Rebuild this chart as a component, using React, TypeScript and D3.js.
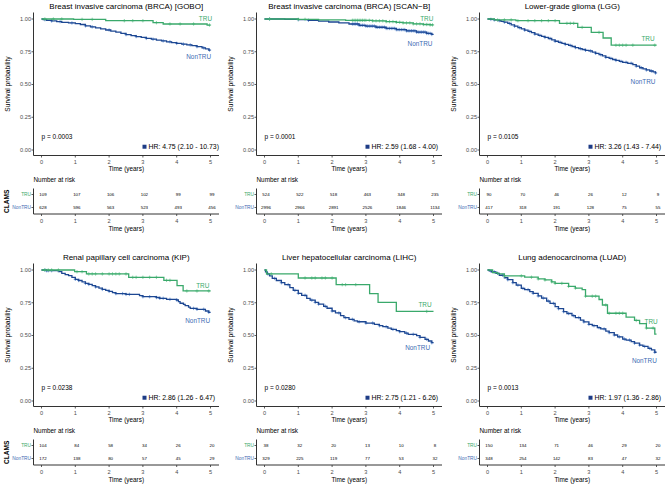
import React from "react";
import * as d3 from "d3";

type Pt = [number, number];

const titles = [
  "Breast invasive carcinoma (BRCA) [GOBO]",
  "Breast invasive carcinoma (BRCA) [SCAN\u2212B]",
  "Lower-grade glioma (LGG)",
  "Renal papillary cell carcinoma (KIP)",
  "Liver hepatocellular carcinoma (LIHC)",
  "Lung adenocarcinoma (LUAD)",
];
const pValues = ["p = 0.0003", "p = 0.0001", "p = 0.0105", "p = 0.0238", "p = 0.0280", "p = 0.0013"];
const hrLabels = [
  "HR: 4.75 (2.10 - 10.73)",
  "HR: 2.59 (1.68 - 4.00)",
  "HR: 3.26 (1.43 - 7.44)",
  "HR: 2.86 (1.26 - 6.47)",
  "HR: 2.75 (1.21 - 6.26)",
  "HR: 1.97 (1.36 - 2.86)",
];
const riskTRU = [
  [109, 107, 106, 102, 99, 99],
  [524, 522, 518, 463, 348, 235],
  [90, 70, 46, 26, 12, 9],
  [104, 84, 58, 34, 26, 20],
  [38, 32, 20, 13, 10, 8],
  [150, 134, 71, 46, 29, 20],
];
const riskNonTRU = [
  [628, 596, 563, 523, 493, 456],
  [2996, 2966, 2891, 2526, 1846, 1134],
  [417, 318, 191, 128, 75, 55],
  [172, 138, 80, 57, 45, 29],
  [329, 225, 119, 77, 53, 32],
  [348, 254, 142, 83, 47, 32],
];
const timeTicks = [0, 1, 2, 3, 4, 5];
const survTicks = [0, 0.25, 0.5, 0.75, 1];

// Kaplan-Meier step points [time, survival]
const goboTRU: Pt[] = [[0, 1], [0.95, 0.997], [1.9, 0.987], [3.3, 0.972], [3.6, 0.962], [4.9, 0.954]];
const goboNon: Pt[] = [[0, 1], [0.05, 0.995], [0.15, 0.99], [0.3, 0.985], [0.45, 0.98], [0.6, 0.975], [0.8, 0.97], [1.0, 0.965], [1.15, 0.958], [1.3, 0.948], [1.45, 0.94], [1.6, 0.932], [1.75, 0.924], [1.9, 0.916], [2.05, 0.908], [2.2, 0.9], [2.35, 0.89], [2.5, 0.881], [2.65, 0.873], [2.8, 0.866], [2.95, 0.859], [3.1, 0.852], [3.25, 0.846], [3.4, 0.839], [3.55, 0.833], [3.7, 0.826], [3.85, 0.82], [4.0, 0.814], [4.15, 0.808], [4.3, 0.802], [4.45, 0.796], [4.6, 0.789], [4.75, 0.78], [4.85, 0.772], [4.95, 0.763]];
const scanTRU: Pt[] = [[0, 1], [1.0, 0.997], [1.6, 0.993], [2.4, 0.99], [3.2, 0.986], [3.6, 0.98], [3.9, 0.975], [4.1, 0.97], [4.4, 0.963], [4.7, 0.958], [4.9, 0.955]];
const scanNon: Pt[] = [[0, 1], [0.6, 0.998], [1.0, 0.995], [1.3, 0.99], [1.6, 0.984], [1.9, 0.977], [2.2, 0.97], [2.5, 0.962], [2.8, 0.952], [3.0, 0.946], [3.3, 0.937], [3.6, 0.928], [3.9, 0.919], [4.2, 0.91], [4.5, 0.9], [4.8, 0.89], [4.95, 0.882]];
const lggTRU: Pt[] = [[0, 1], [0.2, 0.993], [0.84, 0.987], [2.13, 0.967], [2.67, 0.936], [3.07, 0.898], [3.42, 0.855], [3.66, 0.8]];
const lggNon: Pt[] = [[0, 1], [0.1, 0.997], [0.2, 0.993], [0.3, 0.988], [0.4, 0.982], [0.5, 0.976], [0.6, 0.966], [0.7, 0.955], [0.8, 0.945], [0.9, 0.934], [1.0, 0.924], [1.1, 0.915], [1.2, 0.905], [1.3, 0.896], [1.4, 0.885], [1.5, 0.875], [1.6, 0.867], [1.7, 0.859], [1.8, 0.851], [1.9, 0.841], [2.0, 0.83], [2.1, 0.822], [2.2, 0.814], [2.3, 0.806], [2.4, 0.798], [2.5, 0.79], [2.6, 0.782], [2.7, 0.774], [2.8, 0.767], [2.9, 0.761], [3.0, 0.756], [3.1, 0.747], [3.2, 0.738], [3.3, 0.728], [3.4, 0.718], [3.5, 0.707], [3.6, 0.699], [3.7, 0.691], [3.8, 0.684], [3.9, 0.676], [4.0, 0.669], [4.15, 0.662], [4.3, 0.651], [4.4, 0.64], [4.5, 0.628], [4.6, 0.62], [4.7, 0.611], [4.8, 0.603], [4.9, 0.596], [4.97, 0.588]];
const kipTRU: Pt[] = [[0, 1], [0.98, 0.987], [1.33, 0.97], [2.58, 0.944], [3.62, 0.921], [4.01, 0.88], [4.19, 0.84]];
const kipNon: Pt[] = [[0, 1], [0.15, 0.995], [0.5, 0.987], [0.6, 0.975], [0.7, 0.965], [0.8, 0.957], [0.9, 0.943], [1.0, 0.929], [1.1, 0.92], [1.2, 0.91], [1.3, 0.898], [1.4, 0.89], [1.5, 0.88], [1.6, 0.871], [1.7, 0.862], [1.8, 0.852], [1.9, 0.845], [2.0, 0.837], [2.1, 0.828], [2.2, 0.82], [2.5, 0.814], [2.9, 0.804], [3.0, 0.796], [3.4, 0.79], [3.5, 0.784], [3.7, 0.776], [4.0, 0.771], [4.05, 0.758], [4.1, 0.746], [4.2, 0.737], [4.25, 0.728], [4.35, 0.717], [4.4, 0.707], [4.6, 0.7], [4.85, 0.687], [4.95, 0.677]];
const lihcTRU: Pt[] = [[0, 1], [0.06, 0.97], [1.0, 0.939], [2.12, 0.888], [3.11, 0.819], [3.36, 0.753], [3.9, 0.684]];
const lihcNon: Pt[] = [[0, 1], [0.03, 0.985], [0.08, 0.97], [0.15, 0.955], [0.23, 0.936], [0.35, 0.92], [0.5, 0.903], [0.6, 0.888], [0.75, 0.865], [0.85, 0.845], [1.0, 0.822], [1.1, 0.807], [1.25, 0.784], [1.35, 0.77], [1.5, 0.753], [1.6, 0.74], [1.75, 0.723], [1.85, 0.708], [2.0, 0.687], [2.1, 0.672], [2.25, 0.651], [2.35, 0.636], [2.5, 0.623], [2.65, 0.612], [2.75, 0.605], [3.0, 0.595], [3.25, 0.585], [3.4, 0.575], [3.5, 0.567], [3.65, 0.556], [3.75, 0.547], [3.9, 0.537], [4.0, 0.529], [4.15, 0.518], [4.25, 0.509], [4.5, 0.499], [4.6, 0.485], [4.75, 0.471], [4.85, 0.458], [4.95, 0.445]];
const luadTRU: Pt[] = [[0, 1], [0.15, 0.98], [0.3, 0.97], [0.5, 0.955], [1.1, 0.945], [1.5, 0.932], [1.7, 0.924], [1.9, 0.91], [2.0, 0.898], [2.4, 0.875], [2.6, 0.862], [2.8, 0.85], [2.9, 0.8], [3.3, 0.775], [3.4, 0.733], [3.55, 0.67], [4.1, 0.64], [4.35, 0.615], [4.5, 0.59], [4.7, 0.557], [4.95, 0.511]];
const luadNon: Pt[] = [[0, 1], [0.05, 0.993], [0.12, 0.985], [0.25, 0.975], [0.35, 0.96], [0.5, 0.941], [0.6, 0.926], [0.75, 0.903], [0.85, 0.885], [1.0, 0.86], [1.1, 0.85], [1.25, 0.835], [1.35, 0.822], [1.5, 0.802], [1.6, 0.786], [1.75, 0.763], [1.85, 0.745], [2.0, 0.72], [2.1, 0.705], [2.25, 0.682], [2.35, 0.668], [2.5, 0.651], [2.6, 0.637], [2.75, 0.618], [2.85, 0.604], [3.0, 0.585], [3.1, 0.575], [3.25, 0.56], [3.35, 0.55], [3.5, 0.534], [3.6, 0.522], [3.75, 0.504], [3.85, 0.49], [4.0, 0.473], [4.1, 0.465], [4.25, 0.453], [4.35, 0.442], [4.5, 0.427], [4.6, 0.417], [4.75, 0.402], [4.85, 0.39], [4.95, 0.372]];

// censoring times
const goboTRUc = [0.1, 0.35, 0.6, 1.2, 1.5, 2.45, 2.7, 3.0, 3.4, 3.8, 4.1, 4.5, 4.97];
const goboNonc = [0.1, 0.3, 0.55, 0.9, 1.3, 1.5, 2.0, 2.5, 2.8, 3.1, 3.3, 3.6, 3.8, 4.0, 4.2, 4.4, 4.6, 4.8, 4.97];
const scanTRUc = [0.15, 1.0, 1.2, 2.6, 2.65, 2.7, 2.75, 2.8, 2.85, 2.9, 2.95, 3.0, 3.1, 3.2, 3.3, 3.4, 3.5, 3.6, 3.7, 3.8, 3.9, 4.0, 4.1, 4.2, 4.3, 4.4, 4.5, 4.6, 4.7, 4.8, 4.9, 4.97];
const scanNonc = [0.15, 1.0, 1.3, 2.6, 2.65, 2.7, 2.75, 2.8, 2.85, 2.9, 2.95, 3.0, 3.05, 3.1, 3.15, 3.2, 3.25, 3.3, 3.35, 3.4, 3.45, 3.5, 3.55, 3.6, 3.65, 3.7, 3.75, 3.8, 3.85, 3.9, 3.95, 4.0, 4.05, 4.1, 4.15, 4.2, 4.25, 4.3, 4.35, 4.4, 4.45, 4.5, 4.55, 4.6, 4.65, 4.7, 4.75, 4.8, 4.85, 4.9, 4.95];
const lggTRUc = [0.3, 0.5, 0.7, 0.9, 1.2, 1.4, 1.6, 1.8, 2.0, 2.35, 2.45, 2.55, 2.8, 3.3, 3.8, 3.9, 4.0, 4.1, 4.3, 4.95];
const lggNonc = [0.1, 0.2, 0.35, 0.5, 0.65, 0.8, 0.95, 1.1, 1.25, 1.4, 1.55, 1.7, 1.85, 2.0, 2.15, 2.3, 2.45, 2.6, 2.75, 2.9, 3.05, 3.2, 3.35, 3.5, 3.65, 3.8, 3.95, 4.1, 4.25, 4.4, 4.55, 4.7, 4.85, 4.97];
const kipTRUc = [0.1, 0.2, 0.3, 0.5, 1.05, 1.2, 1.4, 1.5, 1.6, 1.8, 2.0, 2.1, 2.2, 2.3, 2.5, 2.7, 2.8, 3.0, 3.2, 3.4, 3.7, 3.8, 4.3, 4.6, 4.95];
const kipNonc = [0.1, 0.15, 0.2, 0.3, 1.0, 1.1, 1.3, 1.4, 1.6, 1.8, 2.0, 2.2, 2.4, 2.5, 2.6, 3.0, 3.2, 3.4, 3.5, 3.6, 3.8, 4.0, 4.5, 4.6, 4.8, 4.95];
const lihcTRUc = [0.2, 1.2, 1.4, 1.5, 1.7, 1.8, 2.0, 2.3, 2.4, 2.7, 4.8];
const lihcNonc = [0.1, 0.3, 0.5, 0.7, 0.9, 1.0, 1.2, 1.4, 1.5, 1.6, 1.8, 2.0, 2.2, 2.4, 2.6, 2.8, 3.0, 3.2, 3.4, 3.6, 3.8, 4.0, 4.2, 4.4, 4.6, 4.8, 4.95];
const luadTRUc = [0.5, 1.0, 1.3, 1.5, 1.7, 1.9, 2.0, 2.2, 2.4, 2.6, 2.9, 3.1, 3.2, 3.5, 3.6, 3.8, 3.9, 4.0, 4.4, 4.7, 4.9];
const luadNonc = [0.1, 0.2, 0.3, 0.45, 0.6, 0.75, 0.9, 1.05, 1.2, 1.35, 1.5, 1.65, 1.8, 1.95, 2.1, 2.25, 2.4, 2.55, 2.7, 2.85, 3.0, 3.15, 3.3, 3.45, 3.6, 3.75, 3.9, 4.05, 4.2, 4.35, 4.5, 4.65, 4.8, 4.95];

const truCurves = [goboTRU, scanTRU, lggTRU, kipTRU, lihcTRU, luadTRU];
const nonCurves = [goboNon, scanNon, lggNon, kipNon, lihcNon, luadNon];
const truCensors = [goboTRUc, scanTRUc, lggTRUc, kipTRUc, lihcTRUc, luadTRUc];
const nonCensors = [goboNonc, scanNonc, lggNonc, kipNonc, lihcNonc, luadNonc];

// curve label anchors [time, survival]
const truLabelAt: Pt[] = [[4.85, 1.0], [4.8, 1.005], [4.75, 0.847], [4.77, 0.878], [4.75, 0.733], [4.84, 0.606]];
const nonLabelAt: Pt[] = [[4.65, 0.71], [4.6, 0.814], [4.6, 0.52], [4.62, 0.61], [4.53, 0.41], [4.64, 0.308]];

const GREEN = "#3aa96b";
const GREEN_LIGHT = "#6cc893";
const BLUE = "#1d4792";
const BLUE_LIGHT = "#5b8ad0";
const BLUE_TEXT = "#3d6bb3";
const NAVY = "#1e3c86";
const FONT = "'Liberation Sans', Arial, Helvetica, sans-serif";
const AXIS = "#333333";
const TICKTXT = "#4d4d4d";

const COL_X = [0, 223, 446];
const ROW_Y = [0, 251];

function survAt(c: Pt[], t: number) {
  let s = c[0][1];
  for (const p of c) {
    if (p[0] <= t) s = p[1];
    else break;
  }
  return s;
}

function Panel({ i }: { i: number }) {
  const ox = COL_X[i % 3];
  const oy = ROW_Y[Math.floor(i / 3)];
  const x = d3.scaleLinear().domain([0, 5]).range([41.5, 210.5]);
  const y = d3.scaleLinear().domain([0, 1]).range([150, 19]);
  const left = 33.5, right = 219, top = 12.5, bottom = 155.5;
  const line = d3.line<Pt>().x((d) => x(d[0])).y((d) => y(d[1])).curve(d3.curveStepAfter);
  const ext = (c: Pt[]): Pt[] => [...c, [5, c[c.length - 1][1]]];
  const cens = (c: Pt[], ts: number[]) =>
    ts.map((t) => {
      const cx = x(t), cy = y(survAt(c, t));
      return `M${cx - 1.7},${cy}h3.4M${cx},${cy - 1.7}v3.4`;
    }).join("");
  const riskAxisY = 214;
  const rowTRU = 194.5, rowNon = 207.5;
  return (
    <g transform={`translate(${ox},${oy})`} fontFamily={FONT}>
      <text x={(left + right) / 2} y={9} textAnchor="middle" fontSize={8} fill="#000">{titles[i]}</text>
      {/* axes */}
      <line x1={left} x2={left} y1={top} y2={bottom} stroke={AXIS} strokeWidth={1} />
      <line x1={left} x2={right} y1={bottom} y2={bottom} stroke={AXIS} strokeWidth={1} />
      {survTicks.map((v) => (
        <g key={v}>
          <line x1={left - 2} x2={left} y1={y(v)} y2={y(v)} stroke={AXIS} strokeWidth={0.8} />
          <text x={left - 2.5} y={y(v)} dy="0.35em" textAnchor="end" fontSize={5.6} fill={TICKTXT}>{d3.format(".2f")(v)}</text>
        </g>
      ))}
      {timeTicks.map((v) => (
        <g key={v}>
          <line x1={x(v)} x2={x(v)} y1={bottom} y2={bottom + 2} stroke={AXIS} strokeWidth={0.8} />
          <text x={x(v)} y={bottom + 6.5} dy="0.35em" textAnchor="middle" fontSize={5.6} fill={TICKTXT}>{v}</text>
        </g>
      ))}
      <text x={(left + right) / 2} y={169} dy="0.35em" textAnchor="middle" fontSize={6.4} fill="#000">Time (years)</text>
      <text transform={`translate(8,${(top + bottom) / 2}) rotate(-90)`} textAnchor="middle" dy="0.35em" fontSize={6.6} fill="#000">Survival probability</text>
      {/* curves */}
      <path d={cens(nonCurves[i], nonCensors[i])} fill="none" stroke={BLUE_LIGHT} strokeWidth={0.8} />
      <path d={line(ext(nonCurves[i])) || ""} fill="none" stroke={BLUE} strokeWidth={1.3} />
      <path d={cens(truCurves[i], truCensors[i])} fill="none" stroke={GREEN_LIGHT} strokeWidth={0.8} />
      <path d={line(ext(truCurves[i])) || ""} fill="none" stroke={GREEN} strokeWidth={1.3} />
      <text x={x(truLabelAt[i][0])} y={y(truLabelAt[i][1])} dy="0.35em" textAnchor="middle" fontSize={6.4} fill={GREEN}>TRU</text>
      <text x={x(nonLabelAt[i][0])} y={y(nonLabelAt[i][1])} dy="0.35em" textAnchor="middle" fontSize={6.4} fill={BLUE_TEXT}>NonTRU</text>
      <text x={41.5} y={y(0.1)} dy="0.35em" fontSize={6.5} fill="#000">{pValues[i]}</text>
      <rect x={142.5} y={y(0.025) - 2} width={4} height={4} fill={NAVY} />
      <text x={148.5} y={y(0.025)} dy="0.35em" fontSize={6.9} fill="#000">{hrLabels[i]}</text>
      {/* risk table */}
      <text x={left} y={180} dy="0.35em" fontSize={6.4} fill="#000">Number at risk</text>
      <line x1={left} x2={left} y1={188.5} y2={riskAxisY} stroke={AXIS} strokeWidth={1} />
      <line x1={left} x2={right} y1={riskAxisY} y2={riskAxisY} stroke={AXIS} strokeWidth={1} />
      <line x1={left - 2} x2={left} y1={rowTRU} y2={rowTRU} stroke={AXIS} strokeWidth={0.8} />
      <line x1={left - 2} x2={left} y1={rowNon} y2={rowNon} stroke={AXIS} strokeWidth={0.8} />
      <text x={left - 2.5} y={rowTRU} dy="0.35em" textAnchor="end" fontSize={4.8} fill={GREEN}>TRU</text>
      <text x={left - 2.5} y={rowNon} dy="0.35em" textAnchor="end" fontSize={4.8} fill={BLUE_TEXT}>NonTRU</text>
      {timeTicks.map((v, k) => (
        <g key={v}>
          <text x={x(v) + 1.5} y={rowTRU} dy="0.35em" textAnchor="middle" fontSize={4.4} fill="#000">{riskTRU[i][k]}</text>
          <text x={x(v) + 1.5} y={rowNon} dy="0.35em" textAnchor="middle" fontSize={4.4} fill="#000">{riskNonTRU[i][k]}</text>
          <line x1={x(v)} x2={x(v)} y1={riskAxisY} y2={riskAxisY + 2} stroke={AXIS} strokeWidth={0.8} />
          <text x={x(v)} y={riskAxisY + 6.8} dy="0.35em" textAnchor="middle" fontSize={5.6} fill={TICKTXT}>{v}</text>
        </g>
      ))}
      <text x={(left + right) / 2} y={228.5} dy="0.35em" textAnchor="middle" fontSize={6.4} fill="#000">Time (years)</text>
      {i % 3 === 0 && (
        <text transform={`translate(7,${(188.5 + riskAxisY) / 2}) rotate(-90)`} textAnchor="middle" dy="0.35em" fontSize={6.6} fontWeight="bold" fill="#000">CLAMS</text>
      )}
    </g>
  );
}

export default function App() {
  return (
    <svg width={666} height={484} style={{ position: "absolute", left: 0, top: 0, background: "#fff" }}>
      <rect width={666} height={484} fill="#fff" />
      {[0, 1, 2, 3, 4, 5].map((i) => (
        <Panel key={i} i={i} />
      ))}
    </svg>
  );
}
